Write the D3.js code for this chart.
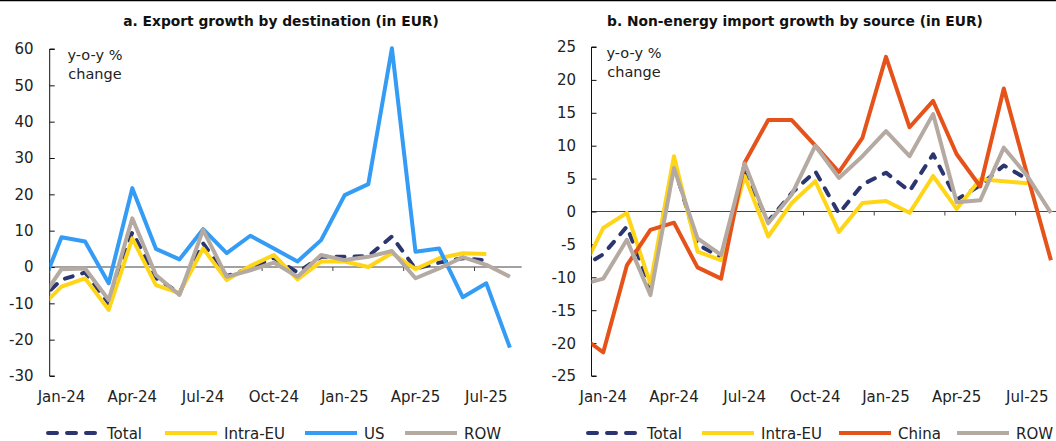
<!DOCTYPE html>
<html>
<head>
<meta charset="utf-8">
<script src="https://cdn.jsdelivr.net/npm/d3@7"></script>
<style>
  body { margin: 0; background: #fff; }
  svg { display: block; font-family: "DejaVu Sans", sans-serif; }
</style>
</head>
<body>
<svg width="1056" height="441"></svg>
<script>
// months, Dec-23 is only the clipped lead-in segment
var months = ["Dec-23","Jan-24","Feb-24","Mar-24","Apr-24","May-24","Jun-24","Jul-24","Aug-24","Sep-24","Oct-24","Nov-24","Dec-24",
  "Jan-25","Feb-25","Mar-25","Apr-25","May-25","Jun-25","Jul-25","Aug-25"];
var tickLabels = ["Jan-24","Apr-24","Jul-24","Oct-24","Jan-25","Apr-25","Jul-25"];

// a. exports
var totalA = [-9.6, -3.5, -1.5, -10, 9.6, -3, -7.2, 6.5, -2.5, -0.3, 2.5, -1.5, 2.8, 2.8, 3.0, 8.4, -0.5, 1.2, 2.4, 1.8, null];
var intraA = [-11.8, -5.4, -3.1, -11.8, 7.9, -5.0, -7.2, 5.1, -3.6, 0.3, 3.3, -3.4, 1.5, 1.5, 0, 3.8, -0.6, 2.4, 3.8, 3.6, null];
var usA    = [-8.2, 8.2, 7.0, -4.5, 21.7, 5.0, 2.1, 10.4, 3.8, 8.6, 5.1, 1.5, 7.4, 19.8, 22.8, 60.2, 4.2, 5.1, -8.3, -4.5, -22.2];
var rowA   = [-10.2, -0.6, -0.4, -9.1, 13.4, -2.2, -7.7, 10.2, -2.7, -0.9, 1.2, -2.7, 3.3, 1.9, 2.8, 4.4, -3.1, -0.4, 2.7, 0.6, -2.7];

// b. non-energy imports
var totalB = [-8.7, -6.5, -2.3, -11.5, 7.0, -5.0, -7.0, 6.0, -1.5, 2.8, 6.1, -0.3, 4.1, 5.9, 3.1, 8.7, 1.8, 4.0, 7.0, 4.9, null];
var intraB = [-9.7, -2.5, -0.2, -11, 8.4, -6.1, -7.4, 5.4, -3.8, 1.3, 4.6, -3.1, 1.3, 1.6, -0.2, 5.4, 0.4, 4.9, 4.6, 4.3, null];
var chinaB = [-18.8, -21.4, -8.2, -2.8, -1.7, -8.5, -10.2, 7.4, 13.9, 13.9, 10, 6.0, 11.2, 23.5, 12.8, 16.8, 8.7, 3.8, 18.7, 5.5, -7.4];
var rowB   = [-11.2, -10.2, -4.3, -12.7, 6.6, -4.1, -6.6, 7.3, -1.8, 2.6, 10, 5.1, 8.4, 12.2, 8.4, 14.8, 1.4, 1.7, 9.7, 5.4, -0.2];

var ticksA = [60, 50, 40, 30, 20, 10, 0, -10, -20, -30];
var ticksB = [25, 20, 15, 10, 5, 0, -5, -10, -15, -20, -25];

var navy = "#2b3570", yellow = "#ffd617", blue = "#349cf4", grey = "#b5aaa2", orange = "#e5531a";

var svg = d3.select("svg");
svg.append("rect").attr("width", 1056).attr("height", 441).attr("fill", "#fff");
svg.append("line").attr("x1", 0).attr("x2", 1056).attr("y1", 0.5).attr("y2", 0.5).attr("stroke", "#000").attr("stroke-width", 1.5);

function panel(opt) {
  var g = svg.append("g");
  // index 0 = Dec-23, points sit in the middle of each month slot
  var x = d3.scaleLinear().domain([0.5, 20.5]).range([opt.left, opt.left + 20 * opt.step]);
  var y = d3.scaleLinear().domain(opt.domain).range([376, opt.top]);

  g.append("text").attr("x", opt.titleX).attr("y", 26).attr("text-anchor", "middle")
    .attr("font-weight", "bold").attr("font-size", 13.8).attr("fill", "#111").text(opt.title);

  var clipId = "clip" + opt.id;
  g.append("clipPath").attr("id", clipId).append("rect")
    .attr("x", opt.left).attr("y", 0).attr("width", 20 * opt.step + 10).attr("height", 441);

  // zero line + month ticks
  g.append("line").attr("x1", opt.left).attr("x2", Math.min(opt.left + 20 * opt.step, 1056))
    .attr("y1", y(0)).attr("y2", y(0)).attr("stroke", "#444").attr("stroke-width", 1.2);
  d3.range(1, 21, 3).forEach(function(i) {
    g.append("line").attr("x1", x(i) - opt.step / 2).attr("x2", x(i) - opt.step / 2)
      .attr("y1", y(0)).attr("y2", y(0) + 4).attr("stroke", "#444");
  });

  // y axis
  var yAxis = d3.axisRight(y).tickValues(opt.ticks).tickSize(5).tickFormat("");
  var ya = g.append("g").attr("transform", "translate(" + opt.left + ",0)").call(yAxis);
  ya.select(".domain").attr("stroke", "#111").attr("d", "M5," + y(opt.domain[1]) + "H0V" + y(opt.domain[0]) + "H5");
  ya.selectAll(".tick line").attr("stroke", "#111");
  g.selectAll(".ylab").data(opt.ticks).enter().append("text")
    .attr("x", opt.labelRight).attr("y", function(d) { return y(d); }).attr("dy", "0.36em")
    .attr("text-anchor", "end").attr("font-size", 15).attr("fill", "#222").text(function(d) { return d; });

  g.append("text").attr("x", opt.unitX).attr("y", opt.top + 11).attr("text-anchor", "middle")
    .attr("font-size", 14.5).attr("fill", "#222").text("y-o-y %");
  g.append("text").attr("x", opt.unitX).attr("y", opt.top + 30).attr("text-anchor", "middle")
    .attr("font-size", 14.5).attr("fill", "#222").text("change");

  // x labels
  tickLabels.forEach(function(t) {
    var i = months.indexOf(t);
    g.append("text").attr("x", x(i)).attr("y", 402).attr("text-anchor", "middle")
      .attr("font-size", 15).attr("fill", "#222").text(t);
  });

  var line = d3.line()
    .defined(function(d) { return d != null; })
    .x(function(d, i) { return x(i); })
    .y(function(d) { return y(d); });

  var lines = g.append("g").attr("clip-path", "url(#" + clipId + ")");
  opt.series.forEach(function(s) {
    lines.append("path").datum(s.values).attr("d", line)
      .attr("fill", "none").attr("stroke", s.color).attr("stroke-width", 4)
      .attr("stroke-linejoin", "round")
      .attr("stroke-linecap", s.dash ? "round" : "butt")
      .attr("stroke-dasharray", s.dash ? "8,10" : null);
  });

  // legend
  opt.series.forEach(function(s, k) {
    var lx = opt.legendX[k];
    g.append("line").attr("x1", lx + 2).attr("x2", lx + 54).attr("y1", 433).attr("y2", 433)
      .attr("stroke", s.color).attr("stroke-width", 4)
      .attr("stroke-linecap", s.dash ? "round" : "butt")
      .attr("stroke-dasharray", s.dash ? "9,10" : null);
    g.append("text").attr("x", lx + 61).attr("y", 438.5).attr("font-size", 15).attr("fill", "#222").text(s.name);
  });
}

panel({
  id: "a", title: "a. Export growth by destination (in EUR)", titleX: 281,
  left: 49.7, step: 23.6, top: 49, domain: [-30, 60], ticks: ticksA, labelRight: 33.5, unitX: 95,
  legendX: [46, 163, 303, 403],
  series: [
    { name: "Total", values: totalA, color: navy, dash: true },
    { name: "Intra-EU", values: intraA, color: yellow },
    { name: "US", values: usA, color: blue },
    { name: "ROW", values: rowA, color: grey }
  ]
});

panel({
  id: "b", title: "b. Non-energy import growth by source (in EUR)", titleX: 795,
  left: 591.5, step: 23.56, top: 47, domain: [-25, 25], ticks: ticksB, labelRight: 576, unitX: 634,
  legendX: [586, 700, 837, 955],
  series: [
    { name: "Total", values: totalB, color: navy, dash: true },
    { name: "Intra-EU", values: intraB, color: yellow },
    { name: "China", values: chinaB, color: orange },
    { name: "ROW", values: rowB, color: grey }
  ]
});
</script>
</body>
</html>
